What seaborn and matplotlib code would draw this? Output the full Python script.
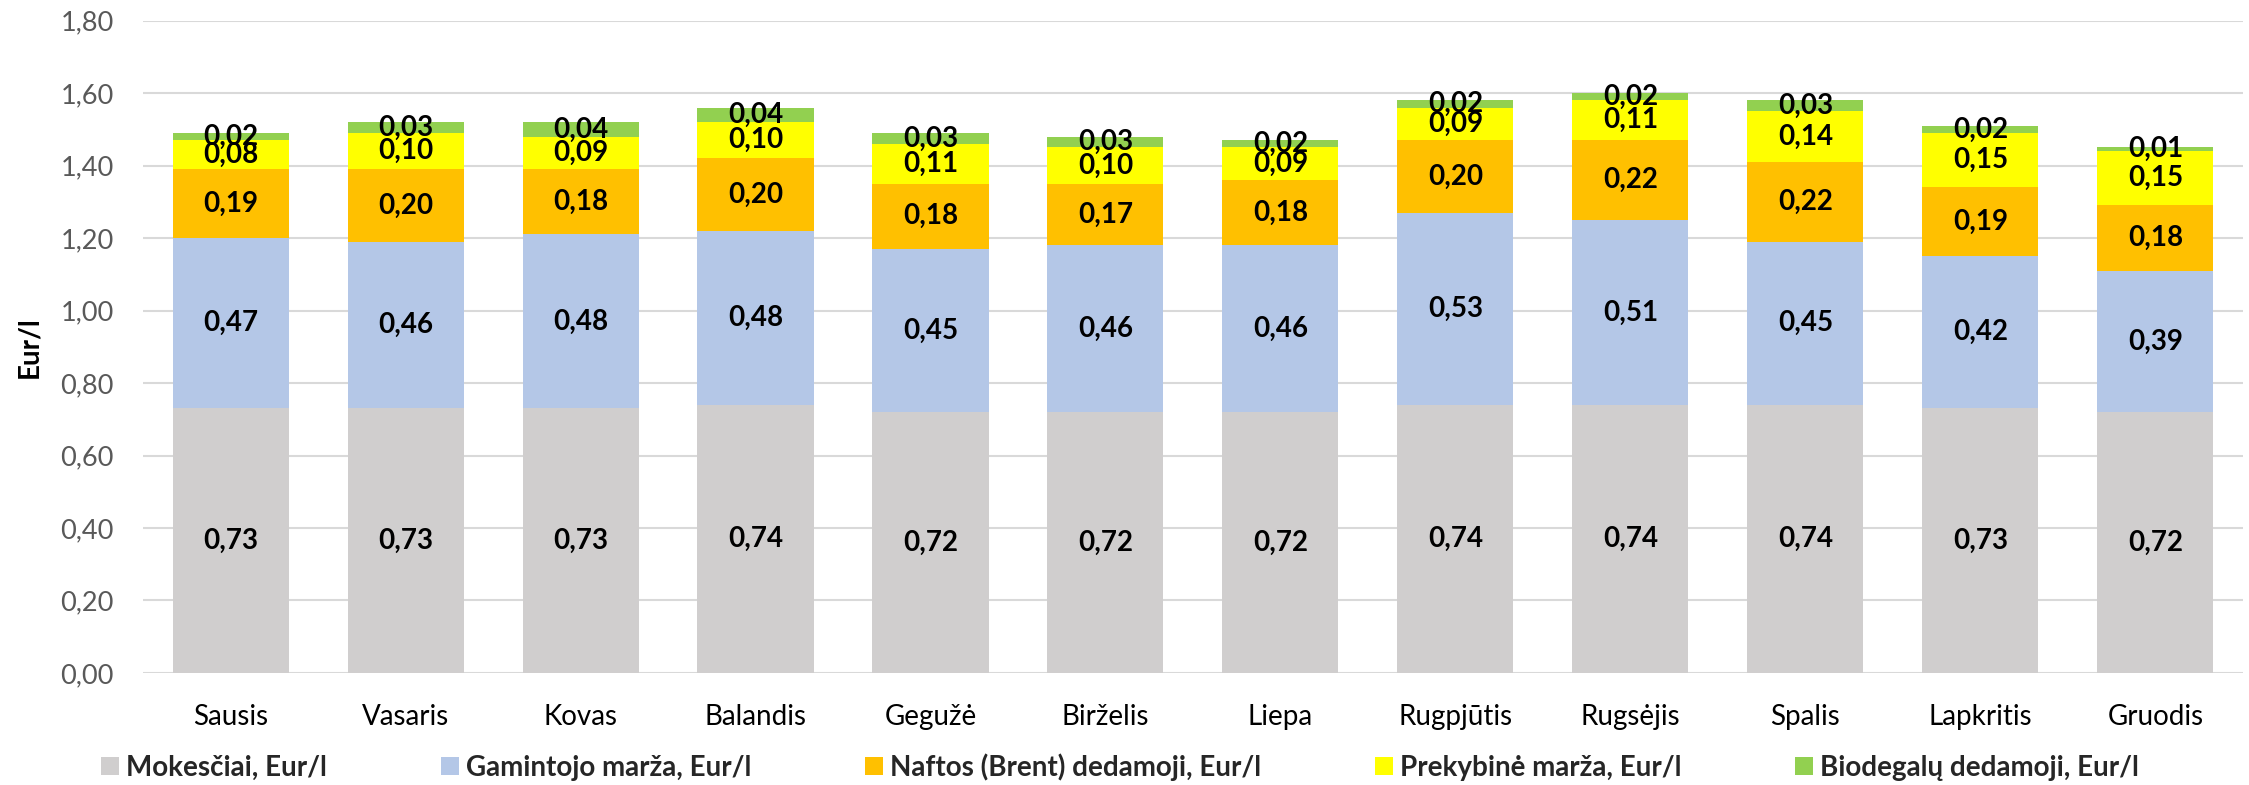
import matplotlib
matplotlib.use("Agg")
import matplotlib.pyplot as plt
import seaborn as sns
import numpy as np
from matplotlib.ticker import FuncFormatter, MultipleLocator

months = ["Sausis", "Vasaris", "Kovas", "Balandis", "Gegužė", "Birželis",
          "Liepa", "Rugpjūtis", "Rugsėjis", "Spalis", "Lapkritis", "Gruodis"]

series_names = ["Mokesčiai, Eur/l", "Gamintojo marža, Eur/l",
                "Naftos (Brent) dedamoji, Eur/l", "Prekybinė marža, Eur/l",
                "Biodegalų dedamoji, Eur/l"]

mokesciai = [0.73, 0.73, 0.73, 0.74, 0.72, 0.72, 0.72, 0.74, 0.74, 0.74, 0.73, 0.72]
gamintojo = [0.47, 0.46, 0.48, 0.48, 0.45, 0.46, 0.46, 0.53, 0.51, 0.45, 0.42, 0.39]
naftos = [0.19, 0.20, 0.18, 0.20, 0.18, 0.17, 0.18, 0.20, 0.22, 0.22, 0.19, 0.18]
prekybine = [0.08, 0.10, 0.09, 0.10, 0.11, 0.10, 0.09, 0.09, 0.11, 0.14, 0.15, 0.15]
biodegalu = [0.02, 0.03, 0.04, 0.04, 0.03, 0.03, 0.02, 0.02, 0.02, 0.03, 0.02, 0.01]

colors = ["#D0CECE", "#B4C7E7", "#FFC000", "#FFFF00", "#92D050"]

sns.set_theme(style="white")
plt.rcParams["font.family"] = ["Lato", "DejaVu Sans"]

fig = plt.figure(figsize=(22.49, 7.85), dpi=100)
ax = fig.add_axes([0.0636, 0.1427, 0.9337, 0.831])

all_series = [mokesciai, gamintojo, naftos, prekybine, biodegalu]
bottom = np.zeros(len(months))
for name, vals, col in zip(series_names, all_series, colors):
    sns.barplot(x=months, y=vals, bottom=bottom, color=col, width=0.663,
                label=name, ax=ax, saturation=1, linewidth=0, zorder=3)
    cont = ax.containers[-1]
    ax.bar_label(cont, labels=[f"{v:.2f}".replace(".", ",") for v in vals],
                 label_type="center", fontsize=20, fontweight="bold",
                 color="black", zorder=5)
    bottom = bottom + np.array(vals)

if ax.get_legend() is not None:
    ax.get_legend().remove()

ax.set_xlim(-0.5, 11.5)
ax.set_ylim(0, 1.8)
ax.yaxis.set_major_locator(MultipleLocator(0.2))
ax.yaxis.set_major_formatter(FuncFormatter(lambda v, p: f"{v:.2f}".replace(".", ",")))
ax.grid(axis="y", color="#D9D9D9", linewidth=1.5, zorder=0)
ax.grid(axis="x", visible=False)
for s in ax.spines.values():
    s.set_visible(False)
ax.tick_params(axis="y", length=0, pad=21, labelsize=19.5, labelcolor="#595959")
ax.tick_params(axis="x", length=0, pad=22, labelsize=20, labelcolor="black")
ax.set_xlabel("")
ax.set_ylabel("Eur/l", fontsize=20, fontweight="bold", color="black")
ax.yaxis.set_label_coords(-0.048, 0.5)

handles, labels = ax.get_legend_handles_labels()
leg = fig.legend(handles, labels, loc="center", bbox_to_anchor=(0.498, 0.023),
                 ncol=5, frameon=False, handlelength=0.65, handleheight=0.65,
                 handletextpad=0.25, columnspacing=4.1,
                 prop={"size": 20, "weight": "bold"})

fig.savefig("out.png", dpi=100)
